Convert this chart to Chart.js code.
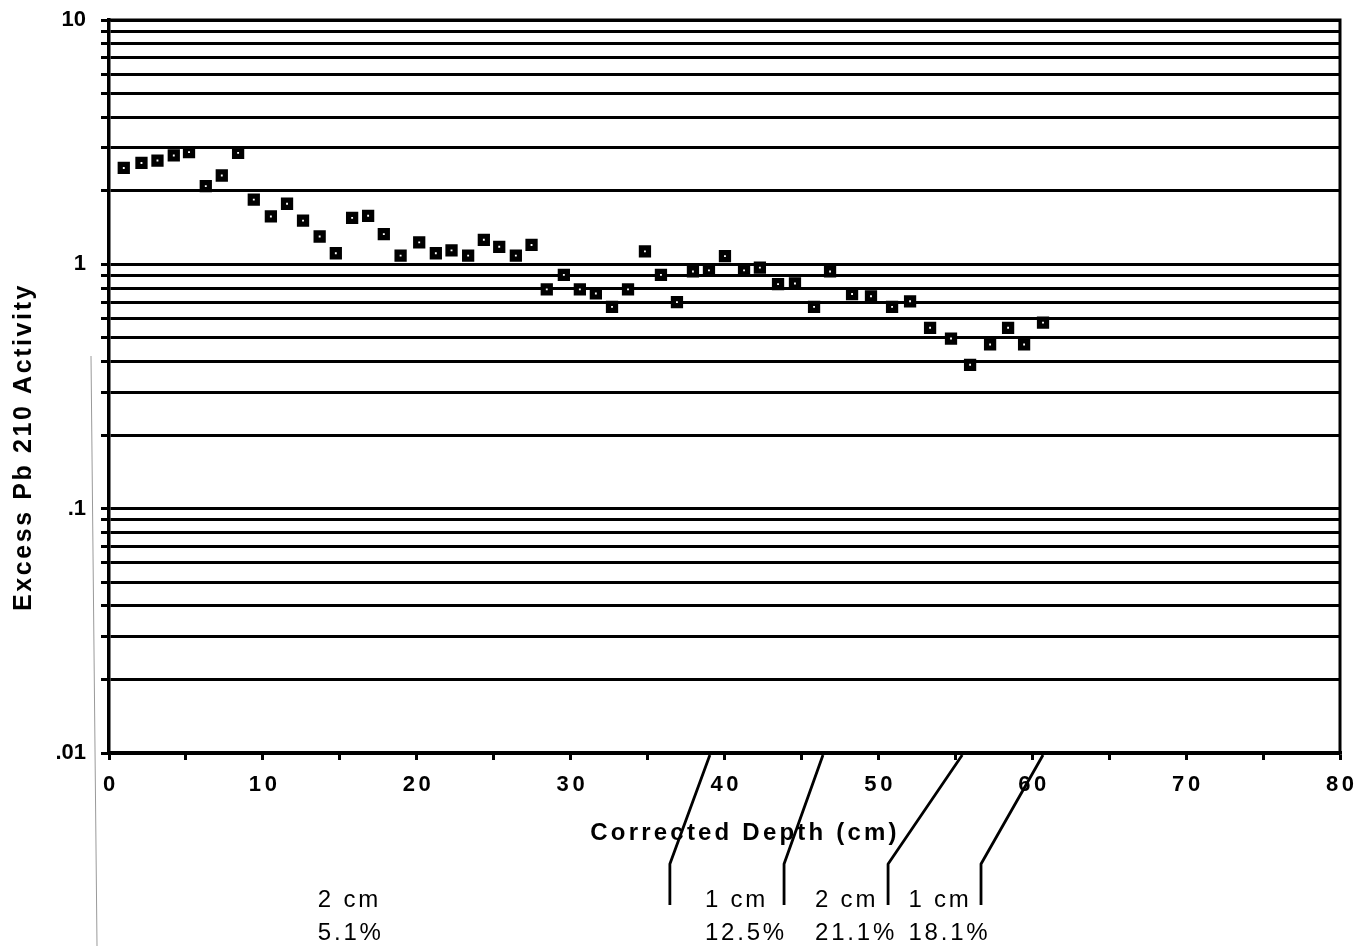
<!DOCTYPE html>
<html><head><meta charset="utf-8">
<script src="https://cdn.jsdelivr.net/npm/chart.js@4.4.1/dist/chart.umd.min.js"></script>
<style>html,body{margin:0;padding:0;background:#fff;} #wrap{width:1359px;height:946px;}</style>
</head><body><div id="wrap"><canvas id="c" width="1359" height="946"></canvas></div>
<script>
// ---- data ----
const depth = [0.96, 2.11, 3.15, 4.21, 5.2, 6.29, 7.33, 8.39, 9.41, 10.52, 11.57, 12.61, 13.69, 14.74, 15.8, 16.84, 17.86, 18.95, 20.16, 21.24, 22.26, 23.34, 24.36, 25.36, 26.44, 27.46,
  28.45, 29.56, 30.6, 31.64, 32.69, 33.73, 34.83, 35.87, 36.91, 37.95, 38.99, 40.03, 41.27, 42.3, 43.48, 44.58, 45.82, 46.86, 48.29, 49.52, 50.89, 52.06, 53.36, 54.72, 55.96, 57.26, 58.43, 59.47, 60.7];
const activity = [2.48, 2.60, 2.66, 2.79, 2.88, 2.09, 2.31, 2.86, 1.84, 1.57, 1.77, 1.51, 1.30, 1.11, 1.55, 1.58, 1.33, 1.085, 1.23, 1.11, 1.14, 1.085, 1.26, 1.18, 1.085, 1.20,
  0.79, 0.905, 0.79, 0.76, 0.67, 0.79, 1.13, 0.905, 0.70, 0.935, 0.945, 1.08, 0.945, 0.97, 0.83, 0.835, 0.67, 0.935, 0.756, 0.74, 0.67, 0.706, 0.55, 0.497, 0.388, 0.47, 0.55, 0.47, 0.577];

const yGridValues = [0.01,0.02,0.03,0.04,0.05,0.06,0.07,0.08,0.09,0.1,0.2,0.3,0.4,0.5,0.6,0.7,0.8,0.9,1,2,3,4,5,6,7,8,9,10];
const yTickValues = [0.01, 0.1, 1, 10];
const yTickText = [".01", ".1", "1", "10"];
const xTickMarks = [0,5,10,15,20,25,30,35,40,45,50,55,60,65,70,75,80];
const xTickValues = [0,10,20,30,40,50,60,70,80];
const xTickText = ["0","10","20","30","40","50","60","70","80"];

const xTitle = "Corrected Depth (cm)";
const yTitle = "Excess Pb 210 Activity";

// section-break annotations (x positions in depth units)
const breakTopX = [39.05, 46.4, 55.45, 60.7];
const breakBendX = [36.45, 43.87, 50.63, 56.67];
const noteCm = ["2 cm", "1 cm", "2 cm", "1 cm"];
const notePct = ["5.1%", "12.5%", "21.1%", "18.1%"];
const noteX = [13.57, 38.73, 45.88, 51.95];

const FONT = '"Liberation Sans", Arial, Helvetica, sans-serif';
function setLS(ctx, px) { if ('letterSpacing' in ctx) ctx.letterSpacing = px + 'px'; }

const decor = {
  id: 'decor',
  afterDraw(chart) {
    const ctx = chart.ctx, xs = chart.scales.x, ca = chart.chartArea;
    ctx.save();
    // top & right frame
    ctx.strokeStyle = '#000'; ctx.lineWidth = 3;
    ctx.beginPath(); ctx.moveTo(ca.left - 1, ca.top); ctx.lineTo(ca.right, ca.top); ctx.lineTo(ca.right, ca.bottom + 1); ctx.stroke();

    // faint scan line on left
    ctx.strokeStyle = '#9a9a9a'; ctx.lineWidth = 1;
    ctx.beginPath(); ctx.moveTo(91, 356); ctx.lineTo(97, 946); ctx.stroke();

    ctx.fillStyle = '#000';
    // x tick labels
    ctx.font = 'bold 22px ' + FONT; setLS(ctx, 3.6);
    ctx.textAlign = 'center'; ctx.textBaseline = 'middle';
    xTickValues.forEach((v, i) => ctx.fillText(xTickText[i], xs.getPixelForValue(v) + 1.8, ca.bottom + 32));

    // x title
    ctx.font = 'bold 24px ' + FONT; setLS(ctx, 3.2);
    ctx.fillText(xTitle, 745, 833);

    // y title
    ctx.save();
    ctx.translate(24, 447); ctx.rotate(-Math.PI / 2);
    ctx.font = 'bold 25px ' + FONT; setLS(ctx, 2.6);
    ctx.fillText(yTitle, 0, 0);
    ctx.restore();

    // break lines
    ctx.strokeStyle = '#000'; ctx.lineWidth = 2.8; ctx.lineJoin = 'round';
    breakTopX.forEach((v, i) => {
      const xt = xs.getPixelForValue(v), xb = xs.getPixelForValue(breakBendX[i]);
      ctx.beginPath(); ctx.moveTo(xt, ca.bottom + 2); ctx.lineTo(xb, 864); ctx.lineTo(xb, 905); ctx.stroke();
    });

    // notes
    ctx.font = '24px ' + FONT; setLS(ctx, 2.8);
    ctx.textAlign = 'left';
    noteX.forEach((v, i) => {
      const x = xs.getPixelForValue(v);
      ctx.fillText(noteCm[i], x, 900);
      ctx.fillText(notePct[i], x, 933);
    });
    ctx.restore();
  }
};

new Chart(document.getElementById('c'), {
  type: 'scatter',
  data: {
    datasets: [{
      data: depth.map((d, i) => ({ x: d, y: activity[i] })),
      pointStyle: 'rect',
      radius: 5.0,
      hoverRadius: 5.0,
      borderWidth: 5.2,
      borderColor: '#000',
      backgroundColor: '#fff',
      showLine: false
    }]
  },
  options: {
    responsive: false,
    devicePixelRatio: 1,
    animation: false,
    events: [],
    layout: { padding: { top: 20, right: 19, left: 0, bottom: 0 } },
    plugins: { legend: { display: false }, tooltip: { enabled: false }, title: { display: false } },
    scales: {
      x: {
        type: 'linear', min: 0, max: 80,
        afterBuildTicks: s => { s.ticks = xTickMarks.map(v => ({ value: v })); },
        afterFit: s => { s.height = 193; s.paddingLeft = 0; s.paddingRight = 0; },
        grid: { drawOnChartArea: false, color: '#000', lineWidth: 3, tickLength: 7 },
        border: { display: true, color: '#000', width: 3.5 },
        ticks: { display: false }
      },
      y: {
        type: 'logarithmic', min: 0.01, max: 10,
        afterBuildTicks: s => { s.ticks = yGridValues.map(v => ({ value: v })); },
        afterFit: s => { s.width = 109; s.paddingTop = 0; s.paddingBottom = 0; },
        grid: { color: '#000', lineWidth: 3, tickLength: 8 },
        border: { display: true, color: '#000', width: 3.5 },
        ticks: {
          autoSkip: false, padding: 15, color: '#000',
          font: { family: FONT, size: 22, weight: 'bold' },
          callback: v => {
            const i = yTickValues.findIndex(t => Math.abs(t - v) / t < 1e-6);
            return i >= 0 ? yTickText[i] : '';
          }
        }
      }
    }
  },
  plugins: [decor]
});
</script>
</body></html>
